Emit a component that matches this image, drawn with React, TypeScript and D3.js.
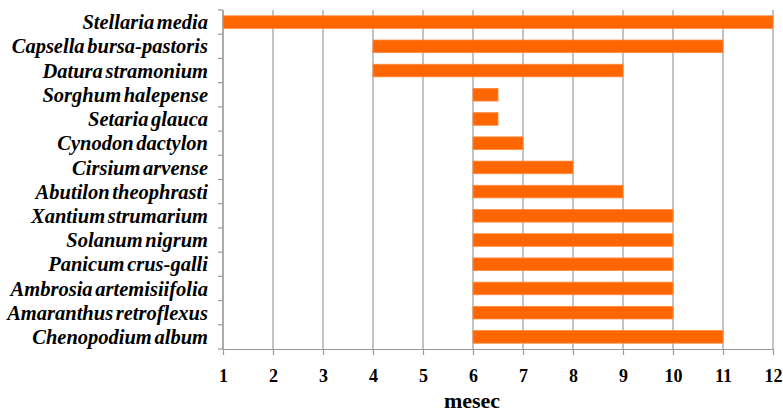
import * as d3 from 'd3';
import { useEffect, useRef } from 'react';

const species = [
    'Stellaria media',
    'Capsella bursa-pastoris',
    'Datura stramonium',
    'Sorghum halepense',
    'Setaria glauca',
    'Cynodon dactylon',
    'Cirsium arvense',
    'Abutilon theophrasti',
    'Xantium strumarium',
    'Solanum nigrum',
    'Panicum crus-galli',
    'Ambrosia artemisiifolia',
    'Amaranthus retroflexus',
    'Chenopodium album',
];
const startMonth = [1, 4, 4, 6, 6, 6, 6, 6, 6, 6, 6, 6, 6, 6];
const endMonth = [12, 11, 9, 6.5, 6.5, 7, 8, 9, 10, 10, 10, 10, 10, 11];
const monthTicks = [1, 2, 3, 4, 5, 6, 7, 8, 9, 10, 11, 12];
const axisTitle = 'mesec';

export default function App() {
    const chartRef = useRef<SVGSVGElement | null>(null);

    useEffect(() => {
        if (!chartRef.current) return;
        const svg = d3.select(chartRef.current);
        svg.selectAll('*').remove();

        const width = 783;
        const height = 413;
        const margin = { top: 10, right: 10, bottom: 64, left: 223 };
        const serif = 'Liberation Serif, DejaVu Serif, serif';

        const rows = species.map((name, i) => ({ name, start: startMonth[i], end: endMonth[i] }));

        const x = d3.scaleLinear().domain([1, 12]).range([margin.left, width - margin.right]);
        const y = d3
            .scaleBand()
            .domain(species)
            .range([margin.top, height - margin.bottom])
            .paddingInner(0.48)
            .paddingOuter(0.24);

        // vertikalne mreže
        svg.append('g')
            .selectAll('line')
            .data(monthTicks)
            .join('line')
            .attr('x1', (d) => x(d))
            .attr('x2', (d) => x(d))
            .attr('y1', margin.top)
            .attr('y2', height - margin.bottom)
            .attr('stroke', '#9a9a9a')
            .attr('stroke-width', 1.2);

        // stubici
        svg.append('g')
            .selectAll('rect')
            .data(rows)
            .join('rect')
            .attr('x', (d) => x(d.start))
            .attr('y', (d) => y(d.name)!)
            .attr('width', (d) => x(d.end) - x(d.start))
            .attr('height', y.bandwidth())
            .attr('fill', '#ff6600')
            .attr('stroke', '#ff8a3d')
            .attr('stroke-width', 0.8);

        // leva osa sa oznakama između redova
        const step = y.step();
        const bounds = d3.range(species.length + 1).map((i) => margin.top + i * step);
        const left = svg.append('g');
        left.append('line')
            .attr('x1', margin.left)
            .attr('x2', margin.left)
            .attr('y1', margin.top)
            .attr('y2', height - margin.bottom)
            .attr('stroke', '#9a9a9a')
            .attr('stroke-width', 1.2);
        left.selectAll('line.tick')
            .data(bounds)
            .join('line')
            .attr('class', 'tick')
            .attr('x1', margin.left - 5)
            .attr('x2', margin.left)
            .attr('y1', (d) => d)
            .attr('y2', (d) => d)
            .attr('stroke', '#9a9a9a')
            .attr('stroke-width', 1.2);
        left.selectAll('text')
            .data(species)
            .join('text')
            .attr('x', margin.left - 15)
            .attr('y', (d) => y(d)! + y.bandwidth() / 2)
            .attr('dy', '0.35em')
            .attr('text-anchor', 'end')
            .attr('font-family', serif)
            .attr('font-style', 'italic')
            .attr('font-weight', 'bold')
            .attr('font-size', 20.5)
            .attr('word-spacing', -2.5)
            .text((d) => d);

        // donja osa
        const xAxis = d3
            .axisBottom(x)
            .tickValues(monthTicks)
            .tickFormat(d3.format('d'))
            .tickSizeInner(6)
            .tickSizeOuter(0)
            .tickPadding(14);

        svg.append('g')
            .attr('transform', `translate(0,${height - margin.bottom})`)
            .call(xAxis)
            .attr('font-family', serif)
            .attr('font-size', 18)
            .attr('font-weight', 'bold')
            .call((g) => g.selectAll('line, path').attr('stroke', '#9a9a9a').attr('stroke-width', 1.2))
            .selectAll('text')
            .attr('fill', '#000');

        svg.append('text')
            .attr('x', 472)
            .attr('y', 408)
            .attr('text-anchor', 'middle')
            .attr('font-family', serif)
            .attr('font-weight', 'bold')
            .attr('font-size', 22)
            .text(axisTitle);
    }, []);

    return (
        <svg
            ref={chartRef}
            width={783}
            height={413}
            style={{ position: 'absolute', left: 0, top: 0, background: '#fff' }}
        />
    );
}
